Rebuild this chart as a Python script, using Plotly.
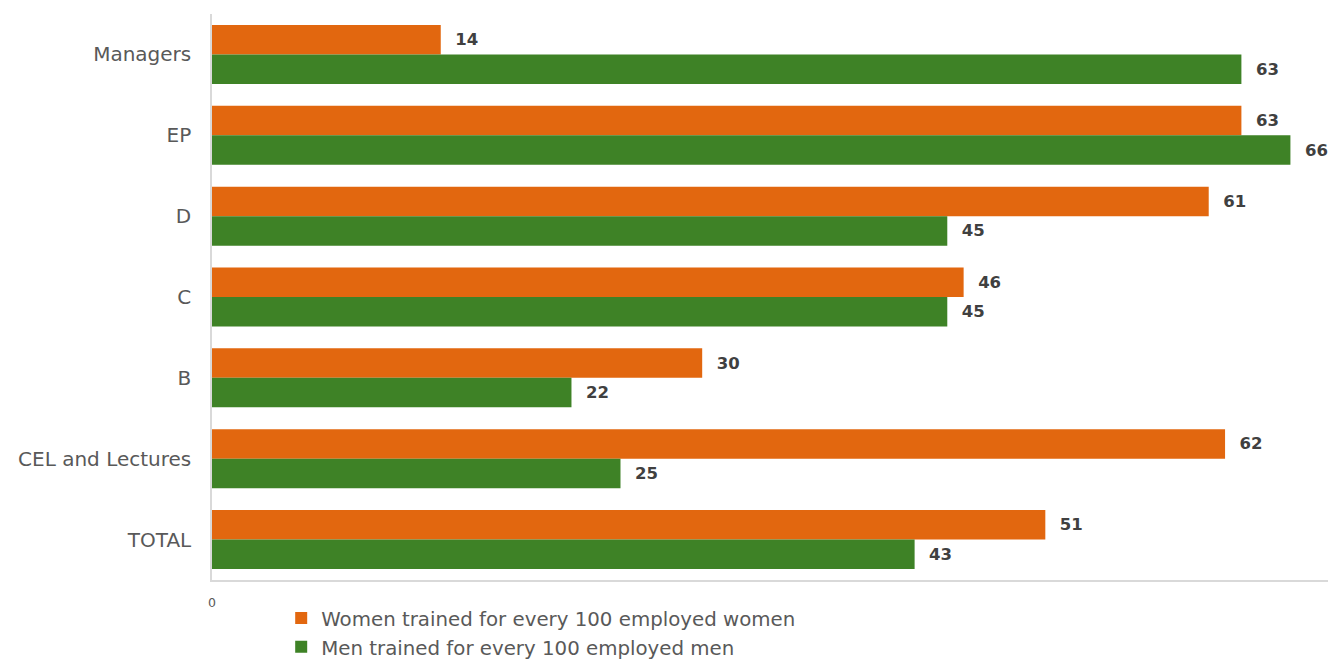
import plotly.graph_objects as go

# Categories listed top to bottom
categories = ["Managers", "EP", "D", "C", "B", "CEL and Lectures", "TOTAL"]
women_per_100 = [14, 63, 61, 46, 30, 62, 51]
men_per_100 = [63, 66, 45, 45, 22, 25, 43]

women_name = "Women trained for every 100 employed women"
men_name = "Men trained for every 100 employed men"

ORANGE = "#E2670F"
GREEN = "#3E8226"
LABEL_FONT = "DejaVu Sans"
PAD = "\u00a0\u00a0"

fig = go.Figure()
for name, vals, col in [(women_name, women_per_100, ORANGE), (men_name, men_per_100, GREEN)]:
    fig.add_trace(go.Bar(
        name=name,
        y=categories,
        x=vals,
        orientation="h",
        marker=dict(color=col, line=dict(width=0)),
        texttemplate=PAD + "%{x}",
        textposition="outside",
        constraintext="none",
        cliponaxis=False,
        textfont=dict(family=LABEL_FONT, size=16.5, color="#404040", weight="bold"),
        hoverinfo="skip",
    ))

fig.update_layout(
    width=1328,
    height=660,
    margin=dict(l=212, r=0, t=14, b=80, autoexpand=False),
    paper_bgcolor="white",
    plot_bgcolor="white",
    barmode="group",
    bargap=0.27,
    bargroupgap=0,
    font=dict(family=LABEL_FONT, color="#595959", size=19.8),
    showlegend=True,
    legend=dict(
        orientation="v",
        x=0.062, y=-0.033, xanchor="left", yanchor="top",
        font=dict(size=19.8, color="#595959"),
        traceorder="normal",
        itemclick=False,
        tracegroupgap=0,
    ),
)

fig.update_xaxes(
    range=[0, 68.3],
    tickvals=[0],
    ticktext=["0"],
    tickfont=dict(size=12.5, color="#595959"),
    ticklabelstandoff=10,
    showgrid=False,
    zeroline=False,
    showline=True,
    linecolor="#D9D9D9",
    linewidth=1.5,
)
fig.update_yaxes(
    autorange="reversed",
    showgrid=False,
    zeroline=False,
    showline=True,
    linecolor="#D9D9D9",
    linewidth=1.5,
    ticks="",
    ticklabelstandoff=15,
    tickfont=dict(size=20, color="#595959"),
)

fig.write_html("out.html")
